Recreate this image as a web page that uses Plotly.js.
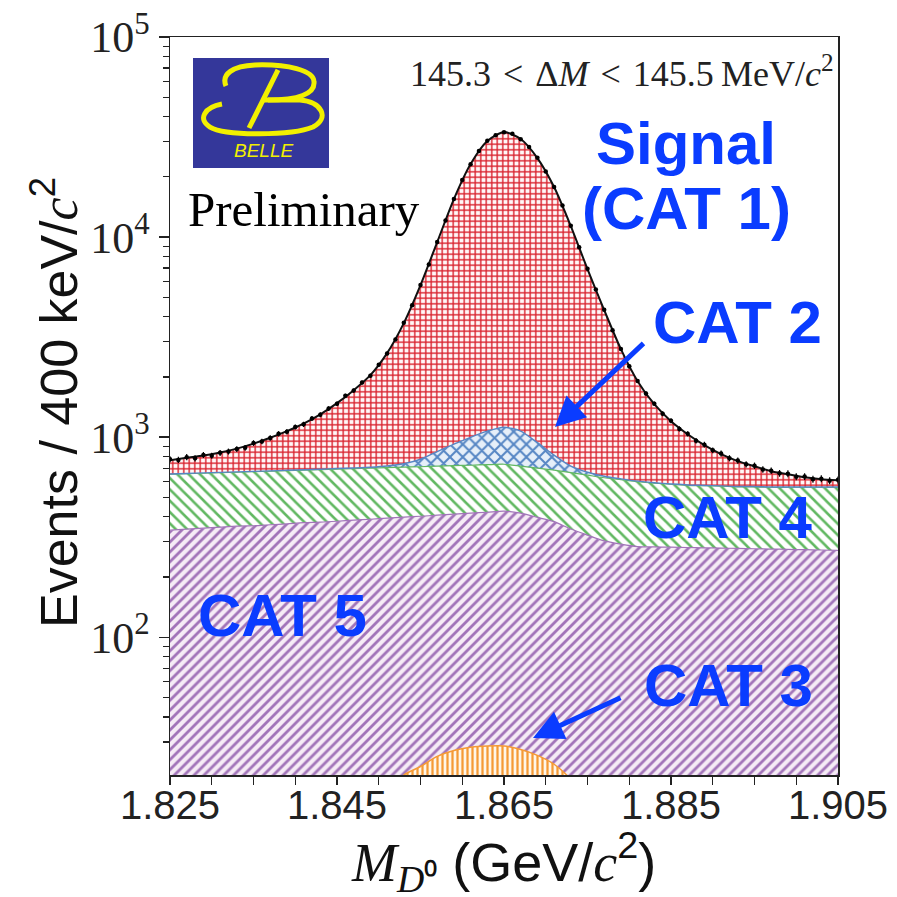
<!DOCTYPE html>
<html><head><meta charset="utf-8">
<script src="https://cdn.plot.ly/plotly-3.0.1.min.js"></script>
<style>html,body{margin:0;padding:0;background:#fff}#chart{width:897px;height:897px}</style>
</head><body><div id="chart"></div>
<script>
// ---- data ----
const massGrid = [1.825,1.827,1.829,1.831,1.833,1.835,1.837,1.839,1.841,1.843,1.845,1.847,1.849,1.851,1.853,1.855,1.857,1.859,1.861,1.863,1.865,1.867,1.869,1.871,1.873,1.875,1.877,1.879,1.881,1.883,1.885,1.887,1.889,1.891,1.893,1.895,1.897,1.899,1.901,1.903,1.905];
// stacked components, bottom to top
const cat3 = [2,2,2,2,2,2,2,2,2,2,2,8,12,17,20.5,22.6,25.4,27.2,28.2,28.6,28.6,27.5,25.7,23.2,19.5,15,10,6,3,2,2,2,2,2,2,2,2,2,2,2,2];
const cat5 = [341,345,349,353,357,359,363,367,372,374,378,377,377,377,378,380,382,385,389,393,398,390,372,355,328,309,293,286,281,281,280,279,278,277,276,275,274,273,272,271,270];
const cat4 = [310,310,310,310,309,311,311,311,310,312,312,311,311,310,310,309,309,308,307,307,306,299,302,306,318,322,324,321,315,306,300,294,292,290,287,288,286,287,288,289,290];
const cat2 = [2,2,2,2,3,3,3,3,4,4,5,6,8,14,28,64,131,203,274,343,389,356,239,129,51,22,11,6,4,3,2,2,2,2,2,2,2,2,2,2,2];
const cat1 = [112,130,148,172,206,254,314,389,481,608,782,1016,1334,1912,2979,4978,8594,14565,22176,29128,32375,29831,23892,16970,10634,6250,3677,2135,1302,870,618,458,338,251,192,149,112,89,67,53,46];
// data points
const dataMass = [1.825,1.826,1.827,1.828,1.829,1.830,1.831,1.832,1.833,1.834,1.835,1.836,1.837,1.838,1.839,1.840,1.841,1.842,1.843,1.844,1.845,1.846,1.847,1.848,1.849,1.850,1.851,1.852,1.853,1.854,1.855,1.856,1.857,1.858,1.859,1.860,1.861,1.862,1.863,1.864,1.865,1.866,1.867,1.868,1.869,1.870,1.871,1.872,1.873,1.874,1.875,1.876,1.877,1.878,1.879,1.880,1.881,1.882,1.883,1.884,1.885,1.886,1.887,1.888,1.889,1.890,1.891,1.892,1.893,1.894,1.895,1.896,1.897,1.898,1.899,1.900,1.901,1.902,1.903,1.904,1.905];
const dataEvents = [775,770,795,784,815,808,835,848,872,885,935,952,990,1040,1065,1125,1160,1240,1295,1390,1470,1610,1710,1875,2030,2300,2620,3080,3730,4560,5770,7300,9460,12100,15500,19300,23100,26900,30300,32300,33400,32800,30800,28200,24900,21300,17800,14400,11400,8900,6950,5470,4330,3420,2760,2260,1910,1655,1470,1310,1210,1100,1040,960,918,860,828,785,765,732,720,690,680,660,657,635,636,617,620,606,612];
// axes ticks
const xTickVals = [1.825,1.845,1.865,1.885,1.905];
const xTickText = ['1.825','1.845','1.865','1.885','1.905'];
const yTickVals = [100,1000,10000,100000];
const yTickText = ['10<sup>2</sup>','10<sup>3</sup>','10<sup>4</sup>','10<sup>5</sup>'];
const yMinorVals = [30,40,50,60,70,80,90,200,300,400,500,600,700,800,900,2000,3000,4000,5000,6000,7000,8000,9000,20000,30000,40000,50000,60000,70000,80000,90000];

// ---- stacking ----
const add = (a,b) => a.map((v,i) => v + b[i]);
const s3 = cat3.slice();
const s5 = add(s3, cat5);
const s4 = add(s5, cat4);
const s2 = add(s4, cat2);
const s1 = add(s2, cat1);

const sp = {shape:'spline', smoothing:0.7};
const traces = [
  {x:massGrid, y:s3, mode:'lines', fill:'tozeroy', line:Object.assign({color:'#f59a35', width:1.5}, sp),
   fillpattern:{shape:'|', fgcolor:'#f59a35', bgcolor:'#fff6e8', size:5, solidity:0.45}, hoverinfo:'skip'},
  {x:massGrid, y:s5, mode:'lines', fill:'tonexty', line:Object.assign({color:'#a274b9', width:1.2}, sp),
   fillpattern:{shape:'/', fgcolor:'#a274b9', bgcolor:'#f6ecf6', size:7, solidity:0.4}, hoverinfo:'skip'},
  {x:massGrid, y:s4, mode:'lines', fill:'tonexty', line:Object.assign({color:'#62b862', width:1.2}, sp),
   fillpattern:{shape:'\\', fgcolor:'#62b862', bgcolor:'#ffffff', size:8, solidity:0.32}, hoverinfo:'skip'},
  {x:massGrid, y:s2, mode:'lines', fill:'tonexty', line:Object.assign({color:'#5686c4', width:1.4}, sp),
   fillpattern:{shape:'x', fgcolor:'#5686c4', bgcolor:'#e6eff9', size:9, solidity:0.4}, hoverinfo:'skip'},
  {x:massGrid, y:s1, mode:'lines', fill:'tonexty', line:Object.assign({color:'#111', width:2}, sp),
   fillpattern:{shape:'+', fgcolor:'#d9222d', bgcolor:'#fff8f8', size:5.5, solidity:0.44}, hoverinfo:'skip'},
  {x:dataMass, y:dataEvents, mode:'markers', marker:{color:'#000', size:4.5},
   error_y:{type:'sqrt', color:'#000', thickness:1.2, width:0}, hoverinfo:'skip'}
];

// pixel -> paper helper for decorations
const PX = px => (px - 170) / 668;
const PY = py => (775 - py) / 738;
const P = (px, py) => PX(px).toFixed(4) + ',' + PY(py).toFixed(4);

const logoBlue = '#34379a', logoYellow = '#f2f000';
const shapes = [
  {type:'rect', xref:'paper', yref:'paper', x0:PX(193), x1:PX(329), y0:PY(168), y1:PY(58), fillcolor:logoBlue, line:{width:0}},
  {type:'path', xref:'paper', yref:'paper', line:{color:logoYellow, width:5},
   path:`M ${P(222,104)} C ${P(205,107)} ${P(197,119)} ${P(210,127)} C ${P(225,136)} ${P(292,136)} ${P(313,127)} C ${P(330,118)} ${P(322,102)} ${P(300,100)} L ${P(262,100)}`},
  {type:'path', xref:'paper', yref:'paper', line:{color:logoYellow, width:5},
   path:`M ${P(226,86)} C ${P(221,74)} ${P(233,66)} ${P(255,65)} C ${P(287,64)} ${P(314,70)} ${P(314,82)} C ${P(315,94)} ${P(298,100)} ${P(268,100)}`},
  {type:'path', xref:'paper', yref:'paper', line:{color:logoYellow, width:5},
   path:`M ${P(278,70)} L ${P(249,128)}`}
];

const blue = '#0a3cff';
const bigFont = {family:'Liberation Sans', size:60, color:blue};
const serifI = t => `<span style="font-family:Liberation Serif;font-style:italic">${t}</span>`;
const txt = (px, py, text, font, extra) => Object.assign({xref:'paper', yref:'paper', x:PX(px), y:PY(py),
  xanchor:'center', yanchor:'middle', text:text, showarrow:false, font:font}, extra || {});
const annotations = [
  txt(263, 151, '<i>BELLE</i>', {family:'Liberation Sans', size:19, color:logoYellow}),
  txt(304, 209, 'Preliminary', {family:'Liberation Serif', size:49, color:'#000'}),
  txt(836, 71, '145.3\u2004<\u2004Δ' + serifI('M') + '\u2004<\u2004145.5\u2009MeV/' + serifI('c') + '<sup>2</sup>',
      {family:'Liberation Serif', size:36, color:'#222'}, {xanchor:'right'}),
  txt(686, 144, '<b>Signal</b>', bigFont),
  txt(686, 208, '<b>(CAT 1)</b>', bigFont),
  txt(737, 322, '<b>CAT 2</b>', bigFont),
  txt(728, 517, '<b>CAT 4</b>', bigFont),
  txt(728, 685, '<b>CAT 3</b>', bigFont),
  txt(282, 615, '<b>CAT 5</b>', bigFont),
  {xref:'paper', yref:'paper', x:PX(555), y:PY(427), ax:90, ay:-85, text:'', showarrow:true,
   arrowcolor:blue, arrowwidth:5, arrowhead:2, arrowsize:1.2},
  {xref:'paper', yref:'paper', x:PX(533), y:PY(738), ax:89, ay:-41, text:'', showarrow:true,
   arrowcolor:blue, arrowwidth:5, arrowhead:2, arrowsize:1.2},
  txt(55, 403, 'Events / 400 keV/' + serifI('c') + '<sup>2</sup>',
      {family:'Liberation Sans', size:52, color:'#111'}, {textangle:-90}),
  txt(503, 862, serifI('M') + '<sub>' + serifI('D') + '⁰</sub> (GeV/' + serifI('c') + '<sup>2</sup>)',
      {family:'Liberation Sans', size:54, color:'#111'})
];

const layout = {
  width:897, height:897,
  margin:{l:170, r:59, t:37, b:122},
  paper_bgcolor:'#fff', plot_bgcolor:'#fff',
  showlegend:false,
  xaxis:{range:[1.825,1.905], tickmode:'array', tickvals:xTickVals, ticktext:xTickText,
    ticks:'outside', ticklen:8, tickwidth:1.5, tickcolor:'#222', ticklabelstandoff:-14,
    showline:true, linewidth:1.5, linecolor:'#222', mirror:true, showgrid:false, zeroline:false,
    tickfont:{family:'Liberation Sans', size:40, color:'#222'},
    minor:{tickmode:'linear', tick0:1.825, dtick:0.005, ticks:'outside', ticklen:8, tickwidth:1.3, tickcolor:'#222', showgrid:false}},
  yaxis:{type:'log', range:[Math.log10(20.5), 5], tickmode:'array', tickvals:yTickVals, ticktext:yTickText,
    ticks:'outside', ticklen:10, tickwidth:1.5, tickcolor:'#222',
    showline:true, linewidth:1.5, linecolor:'#222', mirror:true, showgrid:false, zeroline:false,
    tickfont:{family:'Liberation Serif', size:44, color:'#222'},
    minor:{tickmode:'array', tickvals:yMinorVals, ticks:'outside', ticklen:6, tickwidth:1.2, tickcolor:'#222', showgrid:false}},
  shapes:shapes,
  annotations:annotations
};

Plotly.newPlot('chart', traces, layout, {staticPlot:true, displayModeBar:false});
</script>
</body></html>
